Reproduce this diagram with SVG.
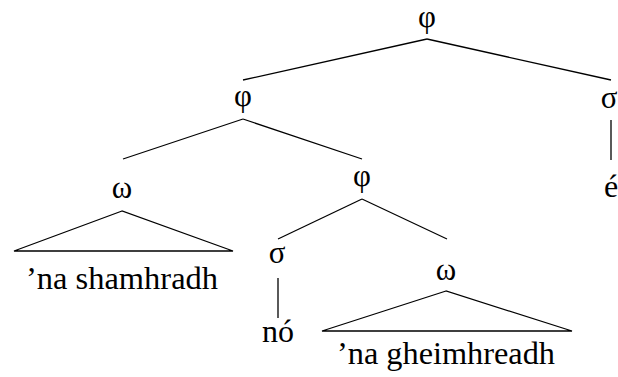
<svg xmlns="http://www.w3.org/2000/svg" width="618" height="377" viewBox="0 0 618 377">
<rect width="618" height="377" fill="#fff"/>
<g id="connectors" stroke="#000" stroke-width="1.3" fill="none">
<line x1="427" y1="39" x2="243" y2="80"/>
<line x1="427" y1="39" x2="611" y2="80"/>
<line x1="243" y1="119" x2="123" y2="159"/>
<line x1="243" y1="119" x2="362" y2="159"/>
<line x1="611" y1="120" x2="611" y2="160"/>
<line x1="362" y1="199" x2="278" y2="239"/>
<line x1="362" y1="199" x2="447" y2="239"/>
<line x1="278" y1="278" x2="278" y2="318"/>
</g>
<g id="n-root"><text font-family="Liberation Serif" font-size="31" text-anchor="middle" x="427" y="27">φ</text></g>
<g id="n-phi2"><text font-family="Liberation Serif" font-size="31" text-anchor="middle" x="243" y="106">φ</text></g>
<g id="n-sigma1"><text font-family="Liberation Serif" font-size="31" text-anchor="middle" x="609" y="108">σ</text></g>
<g id="n-e"><text font-family="Liberation Serif" font-size="32" text-anchor="middle" x="611" y="197">é</text></g>
<g id="n-omega1"><text font-family="Liberation Serif" font-size="31" text-anchor="middle" x="122" y="198">ω</text><polygon points="122,211 14,251 233,251" stroke="#000" stroke-width="1.3" fill="none"/><text font-family="Liberation Serif" font-size="32" text-anchor="middle" x="122" y="289" textLength="192" lengthAdjust="spacingAndGlyphs">’na shamhradh</text></g>
<g id="n-phi3"><text font-family="Liberation Serif" font-size="31" text-anchor="middle" x="362" y="186">φ</text></g>
<g id="n-sigma2"><text font-family="Liberation Serif" font-size="31" text-anchor="middle" x="277" y="263">σ</text></g>
<g id="n-no"><text font-family="Liberation Serif" font-size="32" text-anchor="middle" x="278" y="342">nó</text></g>
<g id="n-omega2"><text font-family="Liberation Serif" font-size="31" text-anchor="middle" x="446" y="280">ω</text><polygon points="446,291 322,331 572,331" stroke="#000" stroke-width="1.3" fill="none"/><text font-family="Liberation Serif" font-size="32" text-anchor="middle" x="446" y="364" textLength="218" lengthAdjust="spacingAndGlyphs">’na gheimhreadh</text></g>
</svg>
